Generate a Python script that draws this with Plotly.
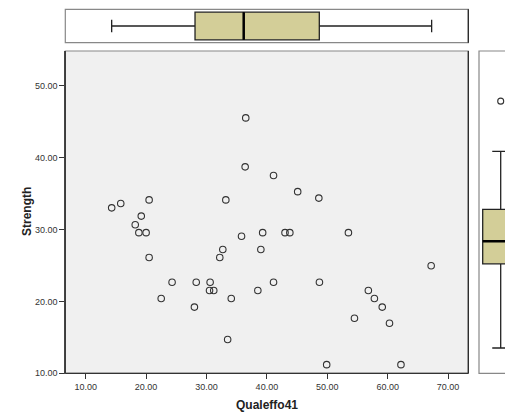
import numpy as np
import plotly.graph_objects as go

# Scatter data
qualeffo41 = [14.3, 15.8, 18.2, 18.8, 19.2, 20.0, 20.5, 20.5, 22.5, 24.3,
              28.0, 28.3, 30.5, 30.6, 31.2, 32.2, 32.7, 33.2, 33.5, 34.1,
              35.8, 36.4, 36.5, 38.5, 39.0, 39.3, 41.1, 41.1, 43.0, 43.8,
              45.1, 48.6, 48.7, 49.9, 53.5, 54.5, 56.8, 57.8, 59.1, 60.3,
              62.2, 67.2]
strength = [33.0, 33.6, 30.65, 29.55, 31.85, 29.55, 34.1, 26.1, 20.4, 22.65,
            19.2, 22.65, 21.5, 22.65, 21.5, 26.1, 27.2, 34.1, 14.7, 20.4,
            29.05, 38.7, 45.5, 21.5, 27.2, 29.55, 37.5, 22.65, 29.55, 29.55,
            35.25, 34.35, 22.65, 11.2, 29.55, 17.65, 21.5, 20.4, 19.2, 16.95,
            11.2, 24.95]

# Marginal boxplot statistics as drawn in the picture
x_box = dict(lowerfence=[14.3], q1=[28.1], median=[36.16], q3=[48.68], upperfence=[67.28])
y_box = dict(lowerfence=[13.52], q1=[25.22], median=[28.37], q3=[32.79], upperfence=[40.86])
y_outliers = [47.83]

x_ticks = [10, 20, 30, 40, 50, 60, 70]
y_ticks = [10, 20, 30, 40, 50]

# the page puts the figure 8px from the window's top-left corner
OFF = 8
W, H = 513 - OFF, 412 - OFF
def px(v):
    return (v - OFF) / W
def py(v):
    return 1 - (v - OFF) / H

main_x = [px(65.3), px(468.3)]
main_y = [py(373.3), py(51)]
top_y = [py(42.7), py(9.3)]
right_x = [px(479), 1.0]

box_fill = "#D3CE98"
font_family = "Liberation Sans, Arial, sans-serif"

fig = go.Figure()

fig.add_trace(go.Scatter(
    x=qualeffo41, y=strength, mode="markers",
    marker=dict(symbol="circle-open", size=6.5, color="#333333", line=dict(width=1.1)),
    xaxis="x", yaxis="y", showlegend=False, hoverinfo="x+y"))

# top box (horizontal)
fig.add_trace(go.Box(
    orientation="h", y=[0], width=27.7, whiskerwidth=0.46,
    lowerfence=x_box["lowerfence"], q1=x_box["q1"], median=x_box["median"],
    q3=x_box["q3"], upperfence=x_box["upperfence"],
    fillcolor=box_fill, line=dict(color="#222222", width=1.3),
    xaxis="x2", yaxis="y2", showlegend=False))

# right box (vertical)
fig.add_trace(go.Box(
    orientation="v", x=[0], width=36, whiskerwidth=0.47,
    lowerfence=y_box["lowerfence"], q1=y_box["q1"], median=y_box["median"],
    q3=y_box["q3"], upperfence=y_box["upperfence"],
    fillcolor=box_fill, line=dict(color="#222222", width=1.3),
    xaxis="x3", yaxis="y3", showlegend=False))

fig.add_trace(go.Scatter(
    x=[0] * len(y_outliers), y=y_outliers, mode="markers",
    marker=dict(symbol="circle-open", size=6, color="#333333", line=dict(width=1.1)),
    xaxis="x3", yaxis="y3", showlegend=False))

x_range = [6.62, 73.35]
y_range = [10, 54.8]
tickfont = dict(family=font_family, size=9, color="#333333")

fig.update_layout(
    width=W, height=H,
    margin=dict(l=0, r=0, t=0, b=0, autoexpand=False),
    paper_bgcolor="white",
    plot_bgcolor="white",
    font=dict(family=font_family),
    xaxis=dict(domain=main_x, range=x_range, tickvals=x_ticks, tickformat=".2f",
               ticks="outside", ticklen=5, tickcolor="#333333", tickfont=tickfont,
               showgrid=False, zeroline=False, showline=True, linecolor="#333333",
               linewidth=1, anchor="y", fixedrange=True, automargin=False),
    yaxis=dict(domain=main_y, range=y_range, tickvals=y_ticks, tickformat=".2f",
               ticks="outside", ticklen=5, tickcolor="#333333", tickfont=tickfont,
               showgrid=False, zeroline=False, showline=True, linecolor="#333333",
               linewidth=1, anchor="x", fixedrange=True, automargin=False),
    xaxis2=dict(domain=main_x, range=x_range, visible=False, anchor="y2", automargin=False),
    yaxis2=dict(domain=top_y, range=[-16.7, 16.7], visible=False, anchor="x2", automargin=False),
    xaxis3=dict(domain=right_x, range=[-21.7, 12.3], visible=False, anchor="y3", automargin=False),
    yaxis3=dict(domain=main_y, range=y_range, visible=False, anchor="x3", automargin=False),
)

shapes = []
# main plot background
shapes.append(dict(type="rect", xref="paper", yref="paper", x0=main_x[0], x1=main_x[1],
                   y0=main_y[0], y1=main_y[1], fillcolor="#F0F0F0", line=dict(width=0), layer="below"))
# frames
shapes.append(dict(type="rect", xref="paper", yref="paper", x0=main_x[0], x1=main_x[1],
                   y0=main_y[0], y1=main_y[1], line=dict(color="#888888", width=1.2), layer="above"))
shapes.append(dict(type="line", xref="paper", yref="paper", x0=main_x[1], x1=main_x[1],
                   y0=main_y[0], y1=main_y[1], line=dict(color="#222222", width=1.2), layer="above"))
shapes.append(dict(type="line", xref="paper", yref="paper", x0=main_x[0], x1=main_x[0],
                   y0=main_y[0], y1=main_y[1], line=dict(color="#333333", width=1.2), layer="above"))
shapes.append(dict(type="line", xref="paper", yref="paper", x0=main_x[0], x1=main_x[1],
                   y0=main_y[0], y1=main_y[0], line=dict(color="#333333", width=1.2), layer="above"))
shapes.append(dict(type="rect", xref="paper", yref="paper", x0=main_x[0], x1=main_x[1],
                   y0=top_y[0], y1=top_y[1], line=dict(color="#888888", width=1.2), layer="below"))
shapes.append(dict(type="line", xref="paper", yref="paper", x0=main_x[1], x1=main_x[1],
                   y0=top_y[0], y1=top_y[1], line=dict(color="#222222", width=1.2), layer="above"))
shapes.append(dict(type="rect", xref="paper", yref="paper", x0=right_x[0], x1=1.05,
                   y0=main_y[0], y1=main_y[1], line=dict(color="#888888", width=1.2), layer="below"))
# thick median lines
shapes.append(dict(type="line", xref="x2", yref="y2", x0=x_box["median"][0], x1=x_box["median"][0],
                   y0=-13.85, y1=13.85, line=dict(color="black", width=2.5)))
shapes.append(dict(type="line", xref="x3", yref="y3", x0=-18, x1=18,
                   y0=y_box["median"][0], y1=y_box["median"][0], line=dict(color="black", width=2.5)))
fig.update_layout(shapes=shapes)

fig.add_annotation(text="<b>Qualeffo41</b>", xref="paper", yref="paper",
                   x=px(267), y=py(405), xanchor="center", yanchor="middle", showarrow=False,
                   font=dict(family=font_family, size=12, color="#222222"))
fig.add_annotation(text="<b>Strength</b>", xref="paper", yref="paper",
                   x=px(27), y=py(212), xanchor="center", yanchor="middle", showarrow=False,
                   textangle=-90,
                   font=dict(family=font_family, size=12, color="#222222"))

fig.write_html("out.html")
